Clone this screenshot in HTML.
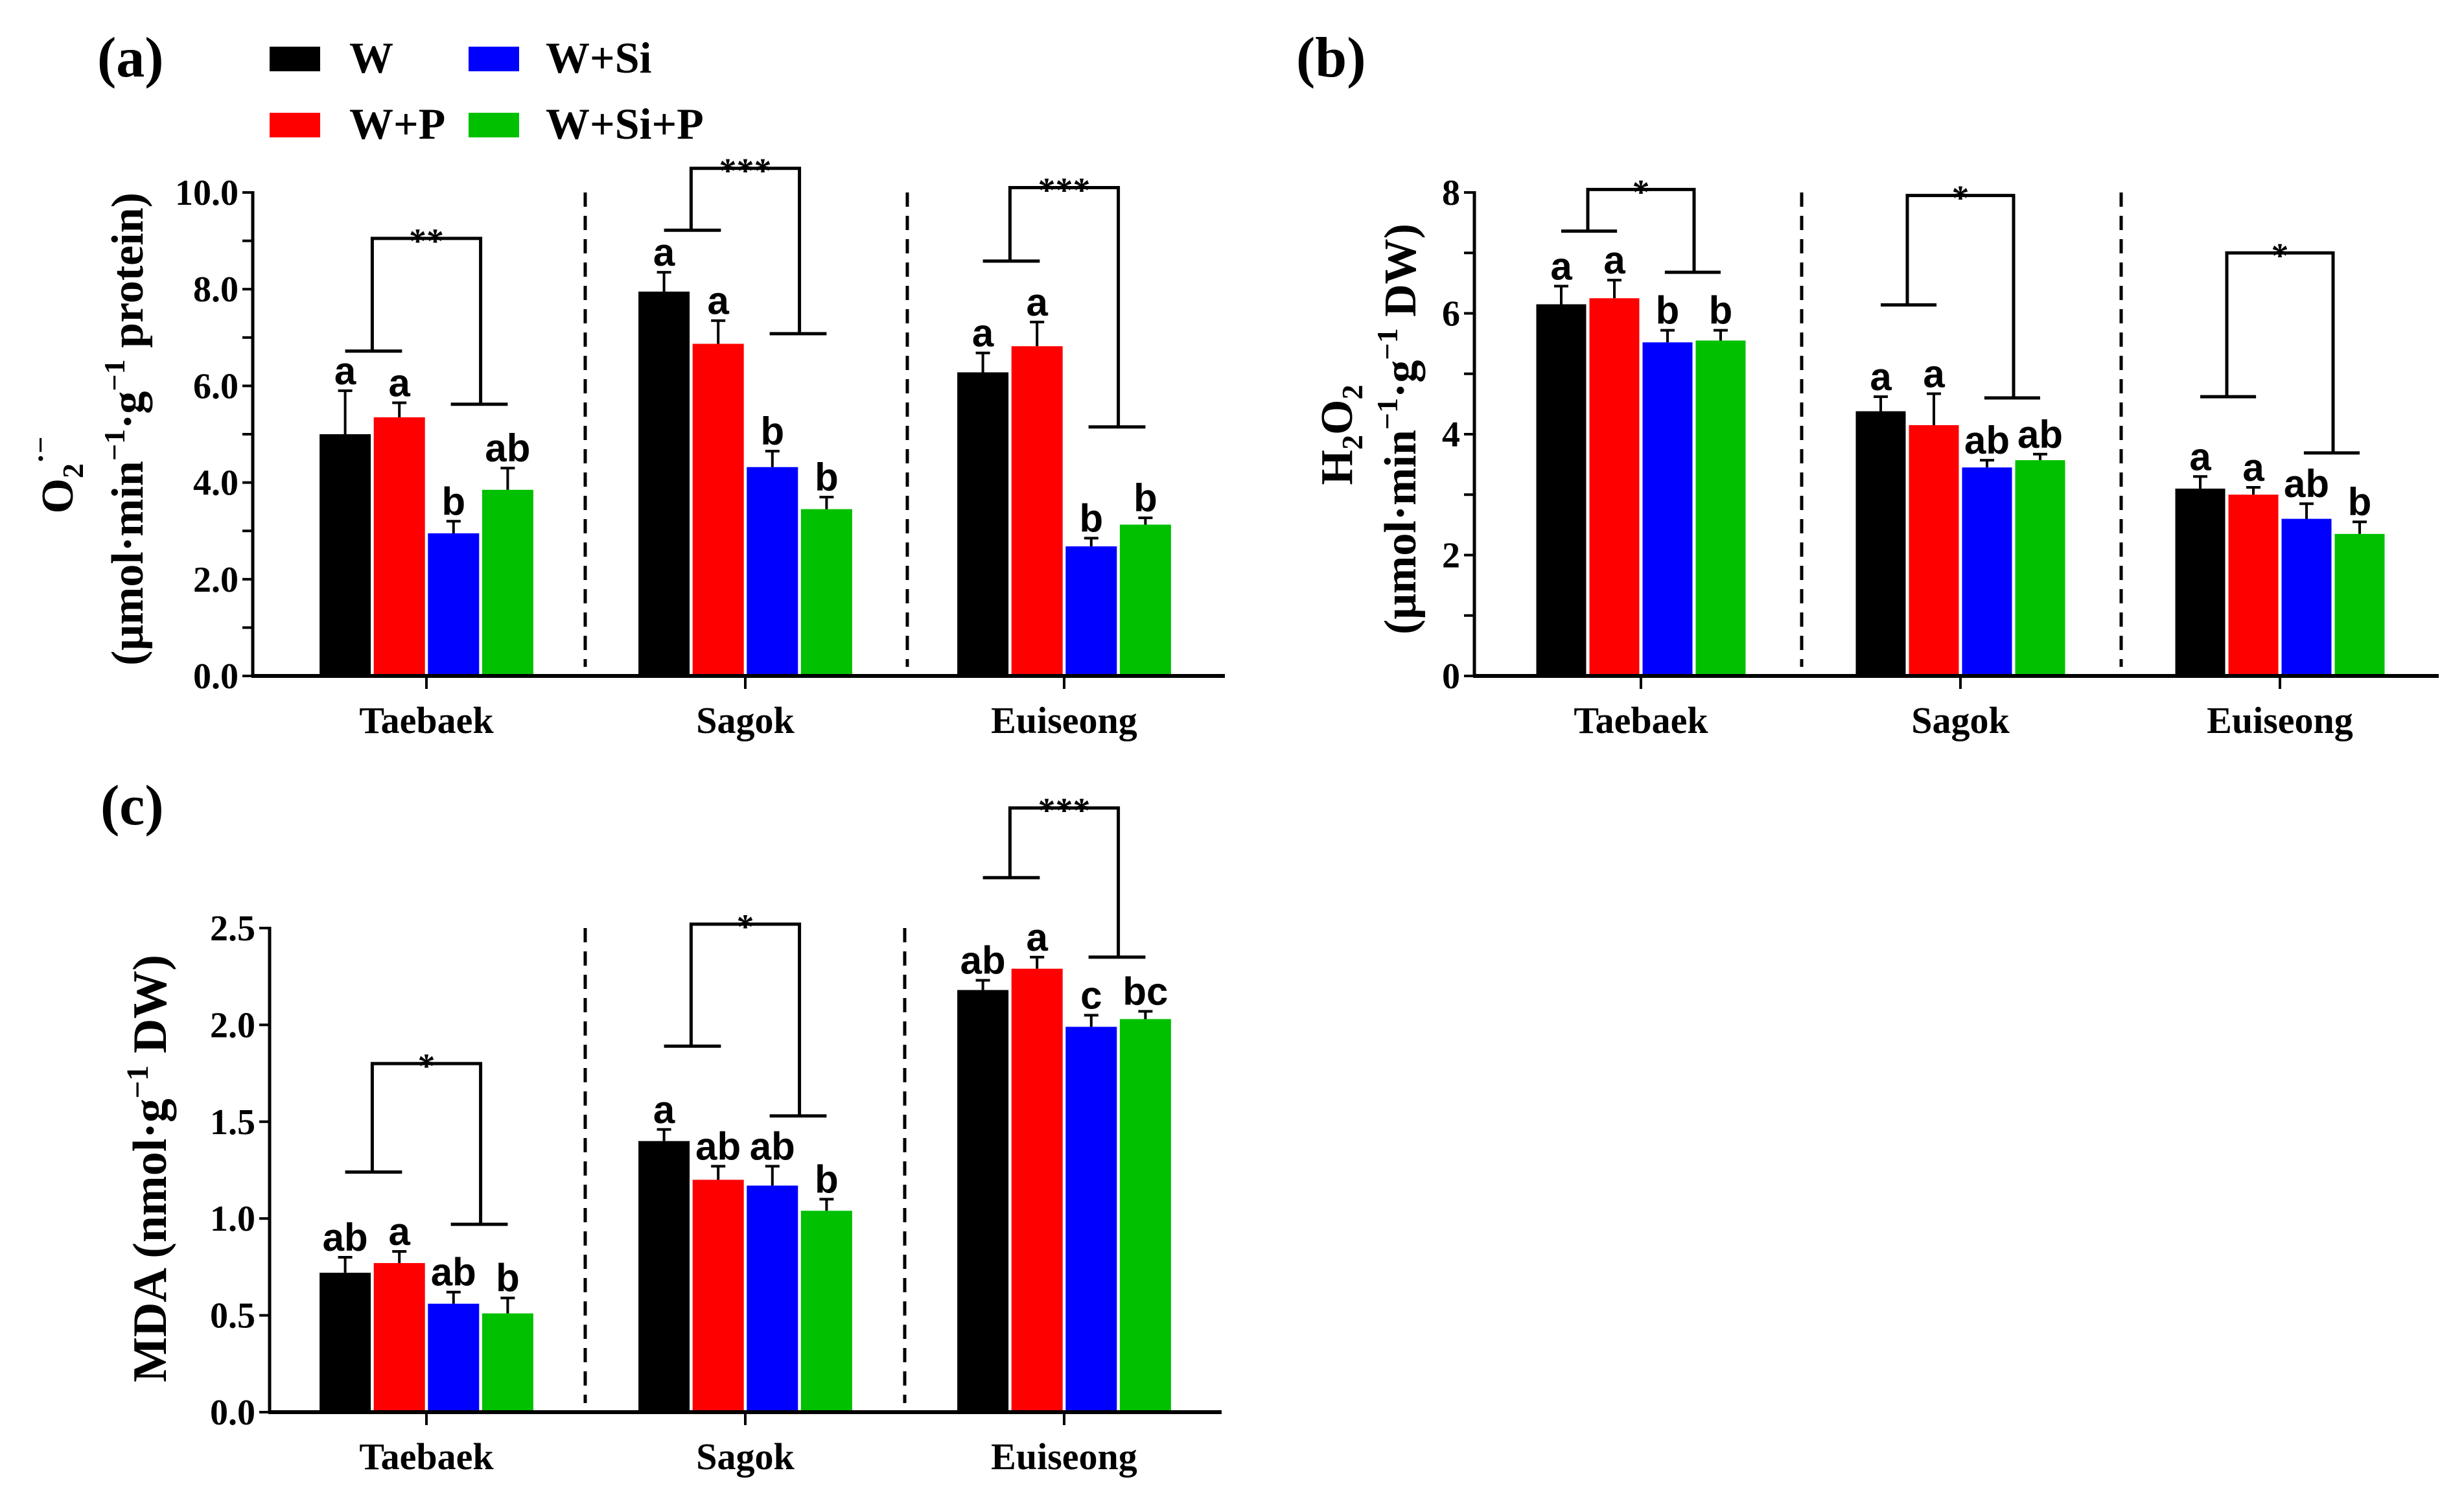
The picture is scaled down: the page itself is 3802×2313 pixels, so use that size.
<!DOCTYPE html>
<html><head><meta charset="utf-8"><style>
html,body{margin:0;padding:0;background:#fff}
svg{display:block}
.serif{font-family:"Liberation Serif",serif;font-weight:bold}
.sans{font-family:"Liberation Sans",sans-serif;font-weight:bold}
</style></head><body>
<svg id="chart" width="3802" height="2313" viewBox="0 0 3802 2313" xmlns="http://www.w3.org/2000/svg">
<rect width="3802" height="2313" fill="#fff"/>
<g class="serif" font-size="68">
 <rect x="416" y="72" width="78" height="38" fill="#000"/>
 <text x="539" y="112">W</text>
 <rect x="723" y="72" width="78" height="38" fill="#0000ff"/>
 <text x="842" y="112">W+Si</text>
 <rect x="416" y="174" width="78" height="38" fill="#ff0000"/>
 <text x="539" y="214">W+P</text>
 <rect x="723" y="174" width="78" height="38" fill="#00c000"/>
 <text x="842" y="214">W+Si+P</text>
</g>
<text class="serif" font-size="88" x="150" y="118">(a)</text>
<text class="serif" font-size="88" x="2000" y="118">(b)</text>
<text class="serif" font-size="88" x="155" y="1272">(c)</text>
<g class="serif" font-size="70" text-anchor="middle">
 <text transform="translate(112,733) rotate(-90)">O<tspan font-size="46" dy="16">2</tspan><tspan font-size="46" dy="-50">·−</tspan></text>
 <text transform="translate(220,662) rotate(-90)">(μmol·min<tspan font-size="46" dy="-28">−1</tspan><tspan dy="28">·g</tspan><tspan font-size="46" dy="-28">−1</tspan><tspan dy="28"> protein)</tspan></text>
 <text transform="translate(2086,671) rotate(-90)">H<tspan font-size="46" dy="16">2</tspan><tspan dy="-16">O</tspan><tspan font-size="46" dy="16">2</tspan></text>
 <text transform="translate(2184,662) rotate(-90)">(μmol·min<tspan font-size="46" dy="-28">−1</tspan><tspan dy="28">·g</tspan><tspan font-size="46" dy="-28">−1</tspan><tspan dy="28"> DW)</tspan></text>
 <text font-size="74" transform="translate(256,1803) rotate(-90)">MDA (nmol·g<tspan font-size="48" dy="-28">−1</tspan><tspan dy="28"> DW)</tspan></text>
</g>
<g id="plots"></g>
</svg>
<script>
const categories = ["Taebaek","Sagok","Euiseong"];
const seriesNames = ["W","W+P","W+Si","W+Si+P"];
const colors = ["#000000","#ff0000","#0000ff","#00c000"];
// panel a: O2- values
const valuesA = [[5.0,5.35,2.95,3.85],[7.95,6.87,4.32,3.45],[6.28,6.82,2.68,3.13]];
const errorsA = [[0.9,0.3,0.25,0.45],[0.4,0.48,0.33,0.25],[0.4,0.5,0.17,0.14]];
const lettersA = [["a","a","b","ab"],["a","a","b","b"],["a","a","b","b"]];
const bracketA = [[6.72,9.05,5.62],[9.22,10.5,7.08],[8.58,10.1,5.15]];
const starsA = ["**","***","***"];
const ticksA = [0,2,4,6,8,10];
const tickLabelsA = ["0.0","2.0","4.0","6.0","8.0","10.0"];
// panel b: H2O2 values
const valuesB = [[6.15,6.25,5.52,5.55],[4.38,4.15,3.45,3.57],[3.1,3.0,2.6,2.35]];
const errorsB = [[0.3,0.3,0.2,0.17],[0.24,0.52,0.12,0.1],[0.2,0.12,0.25,0.2]];
const lettersB = [["a","a","b","b"],["a","a","ab","ab"],["a","a","ab","b"]];
const bracketB = [[7.36,8.05,6.68],[6.14,7.95,4.6],[4.62,7.0,3.69]];
const starsB = ["*","*","*"];
const ticksB = [0,2,4,6,8];
const tickLabelsB = ["0","2","4","6","8"];
// panel c: MDA values
const valuesC = [[0.72,0.77,0.56,0.51],[1.40,1.20,1.17,1.04],[2.18,2.29,1.99,2.03]];
const errorsC = [[0.08,0.06,0.06,0.08],[0.06,0.07,0.1,0.06],[0.05,0.06,0.06,0.04]];
const lettersC = [["ab","a","ab","b"],["a","ab","ab","b"],["ab","a","c","bc"]];
const bracketC = [[1.24,1.8,0.97],[1.89,2.52,1.53],[2.76,3.12,2.35]];
const starsC = ["*","*","***"];
const ticksC = [0,0.5,1,1.5,2,2.5];
const tickLabelsC = ["0.0","0.5","1.0","1.5","2.0","2.5"];

const NS="http://www.w3.org/2000/svg";
const root=document.getElementById('plots');
function mk(tag,attrs,parent){const e=document.createElementNS(NS,tag);for(const k in attrs)e.setAttribute(k,attrs[k]);(parent||root).appendChild(e);return e;}

function drawPanel(p){
  const g=mk('g',{});
  
  
  const y=v=>p.y0-(v/p.max)*(p.y0-p.yTop);
  const centers=categories.map((c,i)=>p.c0+i*p.gap);
  const step=p.step,bw=p.bw;
  p.dash.forEach((dx,i)=>{const l=mk('line',{x1:dx,x2:dx,y1:p.yTop,y2:p.y0-14,stroke:'#000','stroke-width':5,'stroke-dasharray':'22 14'},g);
    
    });
  p.values.forEach((row,ci)=>{row.forEach((v,si)=>{
    const cx=centers[ci]+(si-1.5)*step;
    const top=y(v),etop=y(v+p.errors[ci][si]);
    const eb=mk('line',{x1:cx,x2:cx,y1:top,y2:etop,stroke:'#000','stroke-width':4},g);
    
    
    const ec=mk('line',{x1:cx-11,x2:cx+11,y1:etop,y2:etop,stroke:'#000','stroke-width':4},g);
    
    
    const r=mk('rect',{x:cx-bw/2,y:top,width:bw,height:p.y0-top,fill:colors[si]},g);
    
    
    const t=mk('text',{x:cx,y:etop-10,'text-anchor':'middle','font-size':60,class:'sans'},g);
    t.textContent=p.letters[ci][si];
    
    
  });});
  p.brackets.forEach((b,ci)=>{
    const c=centers[ci];
    const lv=c-1.0*step,rv=c+1.0*step;
    const d=`M${c-1.5*step},${y(b[0])}H${c-0.45*step}M${lv},${y(b[0])}V${y(b[1])}H${rv}V${y(b[2])}M${c+0.45*step},${y(b[2])}H${c+1.5*step}`;
    const pth=mk('path',{d:d,fill:'none',stroke:'#000','stroke-width':5},g);
    
    
    const st=mk('text',{x:(lv+rv)/2,y:y(b[1])+22,'text-anchor':'middle','font-size':54,class:'serif'},g);
    st.textContent=p.stars[ci];
    
    
  });
  const ya=mk('line',{x1:p.ox,x2:p.ox,y1:p.yTop-2,y2:p.y0+2,stroke:'#000','stroke-width':5},g);
  
  
  const xa=mk('line',{x1:p.ox-2,x2:p.x1,y1:p.y0,y2:p.y0,stroke:'#000','stroke-width':6},g);
  
  
  for(let v=0;v<=p.max+1e-9;v+=p.minor){const tk=mk('line',{x1:p.ox-16,x2:p.ox,y1:y(v),y2:y(v),stroke:'#000','stroke-width':4},g);
    
    }
  p.ticks.forEach((v,i)=>{const t=mk('text',{x:p.ox-22,y:y(v)+19,'text-anchor':'end','font-size':56,class:'serif'},g);
    t.textContent=p.tickLabels[i];
    
    });
  centers.forEach((c,i)=>{
    const tk=mk('line',{x1:c,x2:c,y1:p.y0,y2:p.y0+20,stroke:'#000','stroke-width':4},g);
    
    
    const t=mk('text',{x:c,y:p.y0+88,'text-anchor':'middle','font-size':58,class:'serif'},g);
    t.textContent=categories[i];
    
    
  });
}
drawPanel({id:'a',ox:390,x1:1890,y0:1043,yTop:297,max:10,minor:1,ticks:ticksA,tickLabels:tickLabelsA,c0:658,gap:492,step:83.6,bw:79,dash:[903,1400],values:valuesA,errors:errorsA,letters:lettersA,brackets:bracketA,stars:starsA});
drawPanel({id:'b',ox:2275,x1:3763,y0:1043,yTop:297,max:8,minor:1,ticks:ticksB,tickLabels:tickLabelsB,c0:2532,gap:493,step:82,bw:77,dash:[2780,3273],values:valuesB,errors:errorsB,letters:lettersB,brackets:bracketB,stars:starsB});
drawPanel({id:'c',ox:416,x1:1885,y0:2179,yTop:1432,max:2.5,minor:0.5,ticks:ticksC,tickLabels:tickLabelsC,c0:658,gap:492,step:83.6,bw:79,dash:[903,1396],values:valuesC,errors:errorsC,letters:lettersC,brackets:bracketC,stars:starsC});
</script>
</body></html>
